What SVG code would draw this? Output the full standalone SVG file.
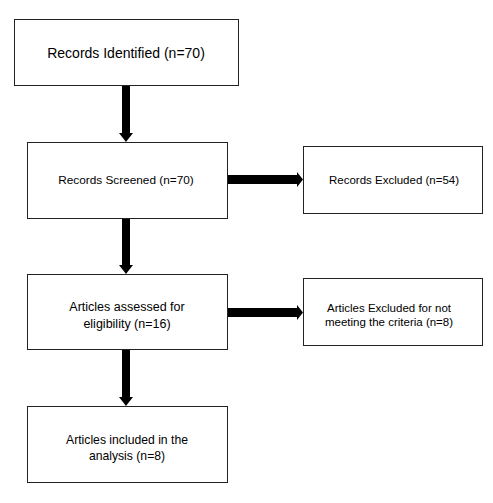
<svg xmlns="http://www.w3.org/2000/svg" width="493" height="503" viewBox="0 0 493 503">
<style>
.box{fill:#fff;stroke:#222;stroke-width:1}
text{font-family:"Liberation Sans",Arial,sans-serif;fill:#000;text-anchor:middle}
.arrow{fill:#000}
</style>
<rect width="493" height="503" fill="#fff"/>
<g id="connectors">
<polygon class="arrow" points="122,85 130,85 130,133 133,133 126,142 119,133 122,133"/>
<polygon class="arrow" points="122,218 130,218 130,265 133,265 126,274 119,265 122,265"/>
<polygon class="arrow" points="122,349 130,349 130,397 133,397 126,406 119,397 122,397"/>
<polygon class="arrow" points="228,175 297,175 297,172 303,179.5 297,187 297,184 228,184"/>
<polygon class="arrow" points="228,308 297,308 297,305 303,312.5 297,320 297,317 228,317"/>
</g>
<g id="identified">
<rect class="box" x="14.5" y="19.5" width="224" height="66"/>
<text x="126" y="58" font-size="14">Records Identified (n=70)</text>
</g>
<g id="screened">
<rect class="box" x="27.5" y="142.5" width="200" height="76"/>
<text x="126" y="184" font-size="11.8">Records Screened (n=70)</text>
</g>
<g id="excluded">
<rect class="box" x="303.5" y="146.5" width="179" height="67"/>
<text x="394" y="184" font-size="11.5">Records Excluded (n=54)</text>
</g>
<g id="assessed">
<rect class="box" x="27.5" y="274.5" width="200" height="75"/>
<text x="127" y="311" font-size="12.5">Articles assessed for</text>
<text x="127" y="328" font-size="12.5">eligibility (n=16)</text>
</g>
<g id="articles-excluded">
<rect class="box" x="303.5" y="278.5" width="179" height="67"/>
<text x="389" y="311.5" font-size="11.5">Articles Excluded for not</text>
<text x="389" y="325.5" font-size="11.5">meeting the criteria (n=8)</text>
</g>
<g id="included">
<rect class="box" x="27.5" y="406.5" width="200" height="76"/>
<text x="127" y="444" font-size="12.2">Articles included in the</text>
<text x="127" y="460" font-size="12.2">analysis (n=8)</text>
</g>
</svg>
